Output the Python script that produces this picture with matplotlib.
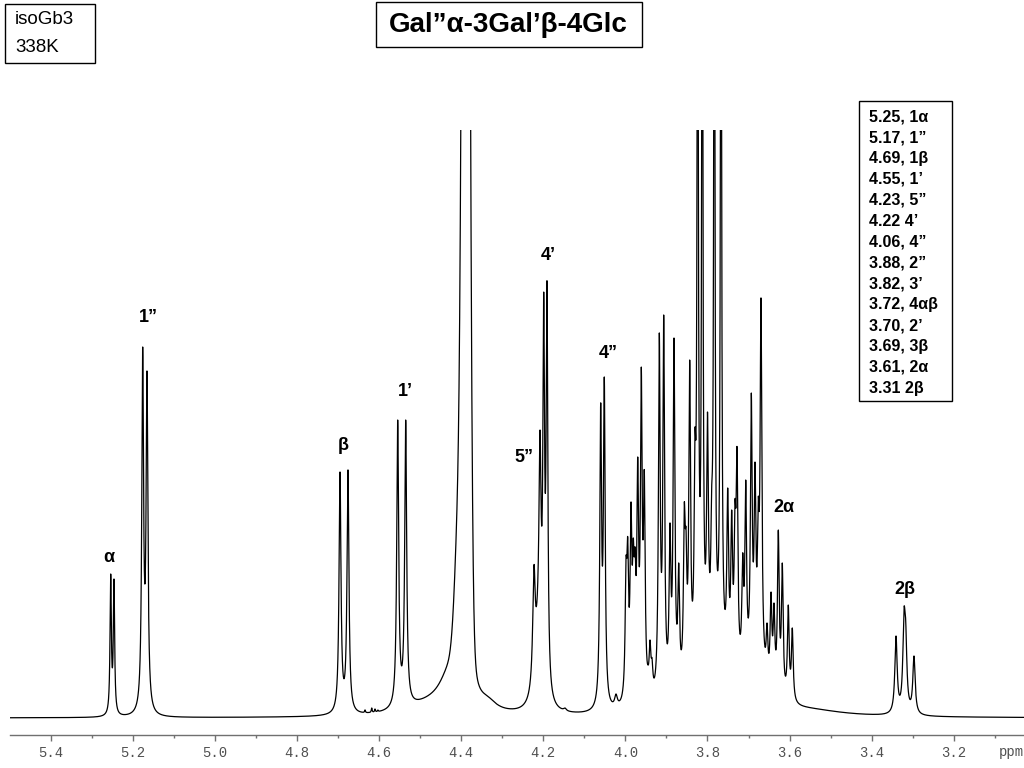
import numpy as np
import matplotlib
matplotlib.use("Agg")
import matplotlib.pyplot as plt
from matplotlib.patches import Rectangle
from matplotlib.ticker import MultipleLocator, FuncFormatter

# ---------------- data ----------------
# resolved lines: chemical shift (ppm), observed height (arbitrary units), half-width (ppm)
line_ppm = [5.2538, 5.2458,                      # H-1 alpha
            5.1759, 5.1654,                      # H-1''
            4.6952, 4.6758,                      # H-1 beta
            4.6546, 4.6343, 4.6180, 4.6100, 4.6030,
            4.5547, 4.5352,                      # H-1'
            4.2227, 4.2080,                      # H-5''
            4.1990, 4.1910,                      # H-4'
            4.1471,
            4.0602, 4.0514,                      # H-4''
            4.0229,
            3.9985, 3.9944, 3.9864, 3.9808, 3.9766, 3.9700, 3.9613, 3.9540,
            3.9450, 3.9401, 3.9352,
            3.9174, 3.9067, 3.8914, 3.8816, 3.8702, 3.8565, 3.8524, 3.8434,
            3.8305, 3.8239, 3.8127, 3.8000, 3.7898, 3.7834, 3.7671,
            3.7508, 3.7411, 3.7330, 3.7281, 3.7143, 3.7069, 3.6933, 3.6843,
            3.6763, 3.6697,
            3.6550, 3.6453, 3.6380, 3.6275, 3.6178, 3.6032, 3.5934,   # H-2 alpha
            3.3408, 3.3213, 3.3172, 3.2970]                           # H-2 beta
line_height = [144, 139,
               371, 347,
               246, 248,
               6, 8, 10, 9, 8,
               298, 298,
               153, 288,
               426, 437,
               10,
               315, 341,
               24,
               160, 181, 216, 180, 171, 261, 351, 248,
               53, 78, 60,
               385, 403, 195, 380, 155, 215, 190, 358,
               288, 900, 900, 306, 231, 900, 900,
               230, 208, 218, 271, 165, 238, 325, 256,
               221, 420,
               95, 126, 115, 188, 155, 113, 90,
               82, 110, 98, 62]
line_width = [0.0019, 0.0019,
              0.0026, 0.0026,
              0.0028, 0.0028,
              0.004, 0.0012, 0.0012, 0.0012, 0.0012,
              0.0028, 0.0028,
              0.0036, 0.0030,
              0.0024, 0.0024,
              0.004,
              0.0025, 0.0025,
              0.004,
              0.0025, 0.0025, 0.0025, 0.0025, 0.0025, 0.0025, 0.0025, 0.0025,
              0.0025, 0.0025, 0.0025,
              0.0025, 0.0025, 0.0025, 0.0025, 0.0025, 0.0025, 0.0025, 0.0025,
              0.0025, 0.0019, 0.0019, 0.0025, 0.0025, 0.0019, 0.0019,
              0.0025, 0.0025, 0.0025, 0.0025, 0.0025, 0.0025, 0.0025, 0.0025,
              0.0025, 0.0025,
              0.0025, 0.0025, 0.0025, 0.0025, 0.0025, 0.0025, 0.0025,
              0.0034, 0.0034, 0.0034, 0.0034]

# broad Lorentzian components: water (HOD) signal wings and underlying envelopes
broad_ppm = [4.3883, 4.4273, 4.4760, 4.3350, 4.2120, 3.7800, 3.6800, 3.5500]
broad_height = [800, 35, 10, 8, 60, 45, 25, 5]
broad_width = [0.0049, 0.0292, 0.0731, 0.0250, 0.0100, 0.0500, 0.0300, 0.1000]

# broad Gaussian components: HOD core and its low-field shoulder
gauss_ppm = [4.3883, 4.4053]
gauss_height = [1500, 140]
gauss_sigma = [0.0073, 0.0097]

# assignments (legend box)
assign_text = ["5.25, 1\u03b1", "5.17, 1\u201d", "4.69, 1\u03b2", "4.55, 1\u2019",
               "4.23, 5\u201d", "4.22 4\u2019", "4.06, 4\u201d", "3.88, 2\u201d",
               "3.82, 3\u2019", "3.72, 4\u03b1\u03b2", "3.70, 2\u2019", "3.69, 3\u03b2",
               "3.61, 2\u03b1", "3.31 2\u03b2"]

# peak labels: text, ppm, height
peak_label = ["\u03b1", "1\u201d", "\u03b2", "1\u2019", "5\u201d", "4\u2019", "4\u201d",
              "2\u03b1", "2\u03b2"]
peak_label_ppm = [5.2572, 5.1630, 4.6872, 4.5369, 4.2470, 4.1885, 4.0424, 3.6137, 3.3189]
peak_label_h = [161, 401, 273, 326, 260, 463, 364, 211, 129]

# ---------------- build the trace ----------------
def lor(x, x0, w):
    return w * w / ((x - x0) ** 2 + w * w)

def gau(x, x0, s):
    return np.exp(-0.5 * ((x - x0) / s) ** 2)

X_LEFT, X_RIGHT = 5.4991, 3.0290
x = np.linspace(X_LEFT, X_RIGHT, 30000)

lp = np.array(line_ppm)
lh = np.array(line_height, float)
lw = np.array(line_width)

def broad_at(xx):
    s = np.zeros_like(xx, dtype=float)
    for p, h, w in zip(broad_ppm, broad_height, broad_width):
        s += h * lor(xx, p, w)
    for p, h, w in zip(gauss_ppm, gauss_height, gauss_sigma):
        s += h * gau(xx, p, w)
    return s

M = lor(lp[:, None], lp[None, :], lw[None, :])
target = lh - broad_at(lp)
amp = np.clip(np.linalg.solve(M, target), 0, None)

y = broad_at(x)
for p, a, w in zip(lp, amp, lw):
    y += a * lor(x, p, w)

# ---------------- figure ----------------
W, H = 1024, 768
fig = plt.figure(figsize=(W / 100, H / 100), dpi=100)
fig.patch.set_facecolor("white")
ax = fig.add_axes([10 / W, (H - 735) / H, 1 - 10 / W, (735 - 130) / H])
ax.plot(x, y, color="black", lw=0.9)
ax.set_xlim(X_LEFT, X_RIGHT)
ax.set_ylim(-17, 588)

for s in ["top", "left", "right"]:
    ax.spines[s].set_visible(False)
ax.spines["bottom"].set_color("#707070")
ax.spines["bottom"].set_linewidth(1.0)
ax.set_yticks([])
ax.xaxis.set_major_locator(MultipleLocator(0.2))
ax.xaxis.set_minor_locator(MultipleLocator(0.1))
ax.xaxis.set_major_formatter(FuncFormatter(lambda v, p: f"{v:.1f}"))
ax.tick_params(axis="x", which="major", direction="out", length=4, width=1,
               color="#707070", pad=4, labelsize=10, labelcolor="#505050")
ax.tick_params(axis="x", which="minor", direction="out", length=2, width=1,
               color="#707070")
for lab in ax.get_xticklabels():
    lab.set_family("Liberation Mono")
fig.text(999 / W, 1 - 752 / H, "ppm", family="Liberation Mono", fontsize=10,
         color="#505050", ha="left", va="center")

for t, p, h in zip(peak_label, peak_label_ppm, peak_label_h):
    ax.text(p, h, t, ha="center", va="center", fontsize=13, fontweight="bold",
            family="Liberation Sans", clip_on=False)

def box(x0, y0, x1, y1):
    fig.add_artist(Rectangle((x0 / W, 1 - y1 / H), (x1 - x0) / W, (y1 - y0) / H,
                             transform=fig.transFigure, fill=False,
                             edgecolor="black", lw=1.0))

# title
box(376, 2, 642, 47)
fig.text(508 / W, 1 - 25 / H, "Gal\u201d\u03b1-3Gal\u2019\u03b2-4Glc", ha="center",
         va="center", fontsize=20, fontweight="bold", family="Liberation Sans")

# sample box
box(5, 4, 95, 63)
fig.text(15 / W, 1 - 20 / H, "isoGb3", ha="left", va="center", fontsize=13.5,
         family="Liberation Sans")
fig.text(15 / W, 1 - 47 / H, "338K", ha="left", va="center", fontsize=13.5,
         family="Liberation Sans")

# assignment box
box(859, 101, 952, 401)
for i, t in enumerate(assign_text):
    fig.text(869 / W, 1 - (116.7 + 20.9 * i) / H, t, ha="left", va="center",
             fontsize=11.5, fontweight="bold", family="Liberation Sans")

fig.savefig("out.png", dpi=100, facecolor="white")
